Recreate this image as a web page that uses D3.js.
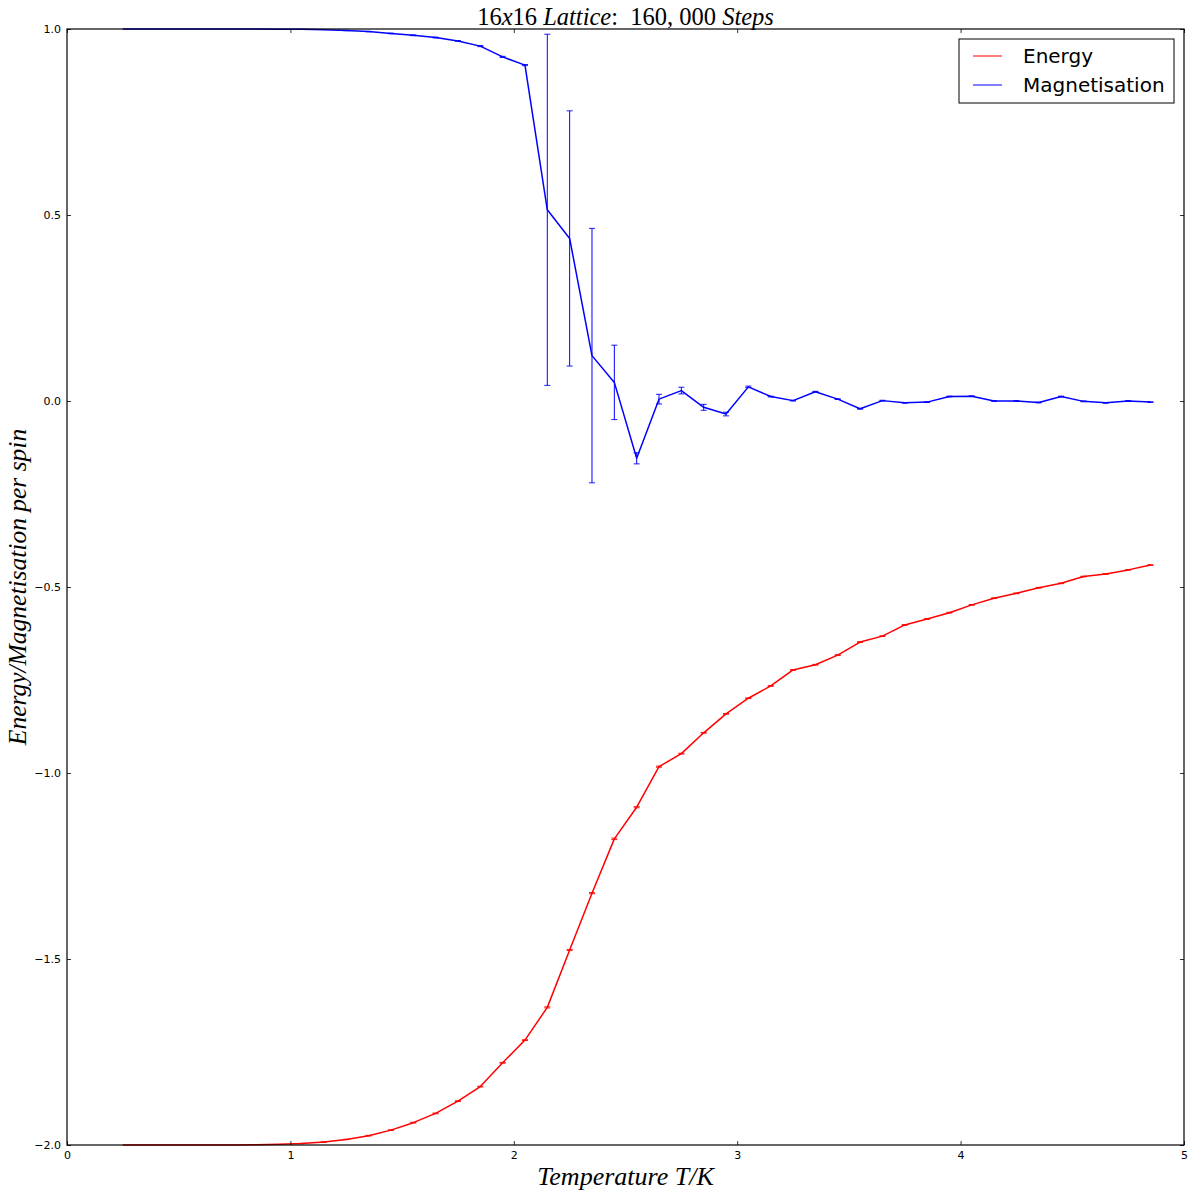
<!DOCTYPE html>
<html>
<head>
<meta charset="utf-8">
<script src="https://cdn.jsdelivr.net/npm/d3@7/dist/d3.min.js"></script>
<style>
  html, body { margin: 0; padding: 0; background: #fff; }
  svg { display: block; }
  .tick text { font-family: "DejaVu Sans", sans-serif; font-size: 11px; fill: #000; }
</style>
</head>
<body>
<svg id="chart" width="1193" height="1198"></svg>
<script>
// ---- Data ----
const temperatures = [0.25,0.35,0.45,0.55,0.65,0.75,0.85,0.95,1.05,1.15,1.25,1.35,1.45,1.55,1.65,1.75,1.85,1.95,2.05,2.15,2.25,2.35,2.45,2.55,2.65,2.75,2.85,2.95,3.05,3.15,3.25,3.35,3.45,3.55,3.65,3.75,3.85,3.95,4.05,4.15,4.25,4.35,4.45,4.55,4.65,4.75,4.85];
const energy = [-2.0,-2.0,-2.0,-2.0,-2.0,-2.0,-1.999,-1.998,-1.996,-1.992,-1.985,-1.975,-1.96,-1.94,-1.915,-1.882,-1.843,-1.779,-1.718,-1.630,-1.476,-1.323,-1.177,-1.092,-0.983,-0.948,-0.892,-0.841,-0.799,-0.766,-0.723,-0.709,-0.683,-0.648,-0.632,-0.602,-0.586,-0.569,-0.548,-0.530,-0.517,-0.502,-0.490,-0.472,-0.465,-0.454,-0.441];
const energyErr = [0,0,0,0,0,0,0,0,0.0005,0.0005,0.0005,0.0008,0.001,0.001,0.001,0.001,0.001,0.001,0.001,0.0015,0.0015,0.0015,0.002,0.0015,0.0015,0.0012,0.001,0.001,0.001,0.001,0.001,0.001,0.001,0.001,0.001,0.001,0.001,0.001,0.001,0.001,0.001,0.001,0.001,0.001,0.001,0.001,0.001];
const magnetisation = [1.0,1.0,1.0,1.0,1.0,1.0,1.0,0.9995,0.999,0.998,0.996,0.993,0.988,0.983,0.977,0.968,0.954,0.925,0.903,0.514,0.437,0.122,0.050,-0.154,0.005,0.028,-0.017,-0.035,0.038,0.012,0.001,0.025,0.005,-0.021,0.001,-0.005,-0.003,0.012,0.013,0.0,0.0,-0.004,0.012,-0.001,-0.005,0.0,-0.003];
const magnetisationErr = [0,0,0,0,0,0,0,0,0,0,0.0005,0.0005,0.0008,0.001,0.001,0.001,0.0015,0.0015,0.0015,0.472,0.343,0.342,0.100,0.015,0.013,0.009,0.008,0.005,0.002,0.001,0.001,0.001,0.001,0.001,0.001,0.001,0.001,0.001,0.001,0.001,0.001,0.001,0.001,0.001,0.001,0.001,0.001];
const xTicks = [0,1,2,3,4,5];
const yTicks = [1.0,0.5,0.0,-0.5,-1.0,-1.5,-2.0];
const seriesNames = ["Energy","Magnetisation"];
const seriesColors = ["#ff0000","#0000ff"];

// ---- Layout ----
const svg = d3.select("#chart");
const L = 67, R = 1184, T = 29, B = 1145;
const x = d3.scaleLinear().domain([0,5]).range([L,R]);
const y = d3.scaleLinear().domain([-2,1]).range([B,T]);

const plot = svg.append("g");
const clipId = "clipPlot";
svg.append("defs").append("clipPath").attr("id", clipId)
  .append("rect").attr("x", L).attr("y", T - 4).attr("width", R - L).attr("height", B - T + 8);

function drawSeries(vals, errs, color) {
  const g = plot.append("g").attr("clip-path", `url(#${clipId})`);
  const pts = temperatures.map((t,i) => ({t, v: vals[i], e: errs[i]}));
  pts.forEach(p => {
    if (p.e <= 0) return;
    const xp = x(p.t);
    g.append("line").attr("x1", xp).attr("x2", xp)
      .attr("y1", y(p.v - p.e)).attr("y2", y(p.v + p.e))
      .attr("stroke", color).attr("stroke-width", 1);
    [p.v - p.e, p.v + p.e].forEach(c => {
      g.append("line").attr("x1", xp - 3).attr("x2", xp + 3)
        .attr("y1", y(c)).attr("y2", y(c))
        .attr("stroke", color).attr("stroke-width", 0.9);
    });
  });
  const line = d3.line().x(d => x(d.t)).y(d => y(d.v));
  g.append("path").datum(pts).attr("d", line)
    .attr("fill", "none").attr("stroke", color).attr("stroke-width", 1.5)
    .attr("stroke-linejoin", "round");
}
drawSeries(energy, energyErr, seriesColors[0]);
drawSeries(magnetisation, magnetisationErr, seriesColors[1]);

// ---- Axes (matplotlib classic: inward ticks on all sides) ----
const fmtY = d => d3.format(".1f")(d).replace("-", "\u2212");
const axB = d3.axisBottom(x).tickValues(xTicks).tickFormat(d3.format("d")).tickSizeInner(-4).tickSizeOuter(0).tickPadding(6);
const axT = d3.axisTop(x).tickValues(xTicks).tickFormat("").tickSizeInner(-4).tickSizeOuter(0);
const axLft = d3.axisLeft(y).tickValues(yTicks).tickFormat(fmtY).tickSizeInner(-4).tickSizeOuter(0).tickPadding(6);
const axRt = d3.axisRight(y).tickValues(yTicks).tickFormat("").tickSizeInner(-4).tickSizeOuter(0);

[[axB, `translate(0,${B})`], [axT, `translate(0,${T})`], [axLft, `translate(${L},0)`], [axRt, `translate(${R},0)`]]
  .forEach(([ax, tr]) => {
    const g = svg.append("g").attr("transform", tr).call(ax);
    g.select(".domain").remove();
    g.selectAll(".tick line").attr("stroke", "#000").attr("stroke-width", 0.8);
  });
svg.selectAll(".tick text").attr("fill", "#000");

svg.append("rect").attr("x", L).attr("y", T).attr("width", R - L).attr("height", B - T)
  .attr("fill", "none").attr("stroke", "#000").attr("stroke-width", 1.2);

// ---- Math-style text helper ----
function mathText(sel, parts) {
  parts.forEach(([txt, it]) => {
    sel.append("tspan").text(txt).attr("font-style", it ? "italic" : "normal");
  });
}
const serif = "'Liberation Serif', 'DejaVu Serif', serif";

const title = svg.append("text").attr("x", (L + R) / 2).attr("y", 25)
  .attr("text-anchor", "middle").attr("font-family", serif).attr("font-size", 24.5).attr("fill", "#000")
  .attr("xml:space", "preserve");
mathText(title, [["16", false], ["x", true], ["16 ", false], ["Lattice", true], [":  160, 000 ", false], ["Steps", true]]);

const xl = svg.append("text").attr("x", (L + R) / 2).attr("y", 1185)
  .attr("text-anchor", "middle").attr("font-family", serif).attr("font-size", 26).attr("fill", "#000")
  .attr("xml:space", "preserve");
mathText(xl, [["Temperature T/K", true]]);

const yl = svg.append("text").attr("transform", `translate(26,${(T + B) / 2}) rotate(-90)`)
  .attr("text-anchor", "middle").attr("font-family", serif).attr("font-size", 25.5).attr("fill", "#000")
  .attr("xml:space", "preserve");
mathText(yl, [["Energy/Magnetisation per spin", true]]);

// ---- Legend ----
const lg = svg.append("g");
lg.append("rect").attr("x", 959).attr("y", 39).attr("width", 215).attr("height", 64)
  .attr("fill", "#fff").attr("stroke", "#000").attr("stroke-width", 1);
seriesNames.forEach((n, i) => {
  const yy = 56 + i * 29;
  lg.append("line").attr("x1", 973).attr("x2", 1002).attr("y1", yy).attr("y2", yy)
    .attr("stroke", seriesColors[i]).attr("stroke-width", 1);
  lg.append("text").attr("x", 1023).attr("y", yy + 7).text(n)
    .attr("font-family", "'DejaVu Sans', sans-serif").attr("font-size", 20).attr("fill", "#000");
});
</script>
</body>
</html>
